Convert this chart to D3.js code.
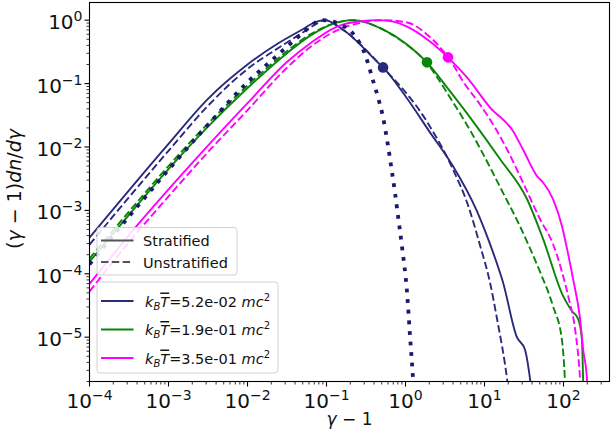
<!DOCTYPE html>
<html>
<head>
<meta charset="utf-8">
<script src="https://cdn.jsdelivr.net/npm/d3@7"></script>
<style>
  body { margin: 0; background: #fff; }
  text { font-family: "DejaVu Sans", sans-serif; fill: #111; }
</style>
</head>
<body>
<svg id="chart" width="611" height="437"></svg>
<script>
// Temperatures of the three runs (units of mc^2)
const temperatures = ["5.2e-02", "1.9e-01", "3.5e-01"];
const colors = ["#2a2a7c", "#0a850a", "#ff00ff"];

// Spectra (γ−1, (γ−1)dn/dγ), normalised to peak 1
const stratLowX = [1e-4, 1e-3, 3.16e-3, 0.01, 0.0251, 0.0501, 0.0708, 0.0955, 0.148, 0.475, 0.519, 1.0, 2.04, 3.98, 7.94, 11.1, 12.8, 17.1, 25.7, 32.4, 37.7, 39.8];
const stratLowY = [3.72e-4, 0.0112, 0.0575, 0.2, 0.44, 0.72, 0.92, 1.0, 0.767, 0.200, 0.180, 0.0631, 0.0170, 5.01e-3, 1.0e-3, 3.55e-4, 2.19e-4, 7.41e-5, 1.0e-5, 6.46e-6, 2.19e-6, 1.26e-6];
const unstratLowX = [1e-4, 1e-3, 3.16e-3, 0.01, 0.0251, 0.0501, 0.0708, 0.0955, 0.148, 0.475, 1.89, 3.98, 6.31, 8.77, 11.7, 14.4, 19.3, 20.4];
const unstratLowY = [2.88e-4, 8.71e-3, 0.0447, 0.17, 0.37, 0.64, 0.84, 1.0, 0.759, 0.200, 0.0245, 4.47e-3, 1.12e-3, 2.82e-4, 7.41e-5, 1.95e-5, 2.19e-6, 1.26e-6];

const stratMidX = [1e-4, 3.16e-4, 1e-3, 3.16e-3, 0.01, 0.0316, 0.0631, 0.126, 0.216, 0.519, 1.045, 1.87, 3.35, 7.14, 15.7, 34.5, 55.1, 98.6, 128, 153, 171, 177, 180];
const stratMidY = [1.55e-4, 8.51e-4, 4.47e-3, 0.0209, 0.0851, 0.302, 0.575, 0.891, 1.0, 0.715, 0.414, 0.216, 0.0871, 0.0254, 6.46e-3, 1.51e-3, 3.55e-4, 4.47e-5, 2.57e-5, 1.95e-5, 9.33e-6, 2.19e-6, 1.0e-6];
const unstratMidX = [1e-4, 3.16e-4, 1e-3, 3.16e-3, 0.01, 0.0316, 0.0631, 0.126, 0.216, 0.519, 1.045, 1.87, 2.51, 3.66, 5.35, 6.95, 8.77, 17.1, 28.1, 37.7, 50.5, 73.6, 95.7, 104, 107];
const unstratMidY = [1.74e-4, 9.55e-4, 5.01e-3, 0.0234, 0.0933, 0.324, 0.603, 0.891, 1.0, 0.708, 0.407, 0.209, 0.126, 0.0603, 0.0282, 0.0162, 9.55e-3, 1.91e-3, 5.62e-4, 2.51e-4, 1.07e-4, 3.09e-5, 8.91e-6, 2.19e-6, 1.0e-6];

const stratHighX = [1e-4, 3.16e-4, 1e-3, 3.16e-3, 0.01, 0.0316, 0.0631, 0.126, 0.251, 0.475, 1.045, 2.04, 3.45, 6.0, 11.7, 23.0, 30.7, 46.2, 55.1, 73.6, 95.7, 111, 132, 162, 177, 198, 204];
const stratHighY = [6.92e-5, 4.07e-4, 2.14e-3, 0.0105, 0.0490, 0.219, 0.437, 0.759, 0.955, 1.0, 0.794, 0.462, 0.259, 0.125, 0.0422, 0.0177, 9.12e-3, 3.47e-3, 2.75e-3, 1.51e-3, 5.62e-4, 2.45e-4, 8.32e-5, 1.95e-5, 6.46e-6, 2.19e-6, 1.0e-6];
const unstratHighX = [1e-4, 3.16e-4, 1e-3, 3.16e-3, 0.01, 0.0316, 0.0631, 0.126, 0.251, 0.519, 1.045, 1.87, 2.74, 3.99, 5.35, 8.77, 14.4, 19.3, 30.7, 50.5, 73.6, 95.7, 117, 140, 162, 168];
const unstratHighY = [5.25e-5, 3.16e-4, 1.66e-3, 8.32e-3, 0.0380, 0.178, 0.380, 0.661, 0.891, 1.0, 0.920, 0.596, 0.372, 0.200, 0.108, 0.0468, 0.0178, 9.12e-3, 2.75e-3, 7.24e-4, 2.95e-4, 1.07e-4, 3.98e-5, 1.35e-5, 2.19e-6, 1.0e-6];

// Reference thermal spectrum for the coolest run (dotted)
const thermalX = [1e-4, 1e-3, 3.16e-3, 0.01, 0.0251, 0.0501, 0.0708, 0.0891, 0.180, 0.229, 0.308, 0.389, 0.449, 0.519, 0.600, 0.675, 0.736, 0.804, 0.904, 1.045, 1.14, 1.245, 1.29];
const thermalY = [1.41e-4, 4.37e-3, 0.0224, 0.105, 0.295, 0.63, 0.9, 1.0, 0.759, 0.562, 0.288, 0.110, 0.0603, 0.0295, 0.0105, 3.98e-3, 1.91e-3, 8.13e-4, 2.63e-4, 5.13e-5, 1.05e-5, 2.19e-6, 1.0e-6];

// Circle markers on each stratified spectrum
const markerX = [0.52, 1.87, 3.45];
const markerY = [0.18, 0.216, 0.259];

const xTickExps = [-4, -3, -2, -1, 0, 1, 2];
const yTickExps = [-5, -4, -3, -2, -1, 0];

const svg = d3.select("#chart");
const L = 89.5, R = 609.5, T = 2.5, B = 381.5;

const x = d3.scaleLog().domain([1e-4, 382]).range([L, R]);
const y = d3.scaleLog().domain([2e-6, 1.9]).range([B, T]);

const zip = (xs, ys) => xs.map((v, i) => [v, ys[i]]);
const line = d3.line().x(d => x(d[0])).y(d => y(d[1])).curve(d3.curveMonotoneX);

svg.append("clipPath").attr("id", "plotArea")
  .append("rect").attr("x", L).attr("y", T).attr("width", R - L).attr("height", B - T);

const plot = svg.append("g").attr("clip-path", "url(#plotArea)");

const runs = [
  { s: zip(stratLowX, stratLowY), u: zip(unstratLowX, unstratLowY) },
  { s: zip(stratMidX, stratMidY), u: zip(unstratMidX, unstratMidY) },
  { s: zip(stratHighX, stratHighY), u: zip(unstratHighX, unstratHighY) }
];

runs.forEach((r, i) => {
  plot.append("path").attr("d", line(r.s)).attr("fill", "none")
    .attr("stroke", colors[i]).attr("stroke-width", 1.9);
  plot.append("path").attr("d", line(r.u)).attr("fill", "none")
    .attr("stroke", colors[i]).attr("stroke-width", 1.9)
    .attr("stroke-dasharray", "7.5,3.3");
});

plot.append("path").attr("d", line(zip(thermalX, thermalY))).attr("fill", "none")
  .attr("stroke", "#191970").attr("stroke-width", 3.8)
  .attr("stroke-dasharray", "3.8,6.8");

markerX.forEach((mx, i) => {
  plot.append("circle").attr("cx", x(mx)).attr("cy", y(markerY[i]))
    .attr("r", 5.3).attr("fill", colors[i]);
});

// Axes: decade labels plus minor ticks
const axes = svg.append("g");
const majorX = xTickExps.map(e => Math.pow(10, e));
const majorY = yTickExps.map(e => Math.pow(10, e));
const isMajor = v => Math.abs(Math.log10(v) - Math.round(Math.log10(v))) < 1e-6;

x.ticks().forEach(v => {
  const big = isMajor(v);
  axes.append("line").attr("x1", x(v)).attr("x2", x(v))
    .attr("y1", B).attr("y2", B + (big ? 5 : 3))
    .attr("stroke", "#000").attr("stroke-width", big ? 1.1 : 0.8);
});
y.ticks().forEach(v => {
  const big = isMajor(v);
  axes.append("line").attr("y1", y(v)).attr("y2", y(v))
    .attr("x1", L).attr("x2", L - (big ? 5 : 3))
    .attr("stroke", "#000").attr("stroke-width", big ? 1.1 : 0.8);
});

const exp = e => (e < 0 ? "\u2212" + (-e) : String(e));

majorX.forEach((v, i) => {
  const t = axes.append("text").attr("x", x(v)).attr("y", B + 26)
    .attr("text-anchor", "middle").attr("font-size", 20);
  t.append("tspan").text("10");
  t.append("tspan").attr("dy", -8).attr("font-size", 14).text(exp(xTickExps[i]));
});
majorY.forEach((v, i) => {
  const t = axes.append("text").attr("x", L - 7).attr("y", y(v) + 9)
    .attr("text-anchor", "end").attr("font-size", 20);
  t.append("tspan").text("10");
  t.append("tspan").attr("dy", -8).attr("font-size", 14).text(exp(yTickExps[i]));
});

axes.append("rect").attr("x", L).attr("y", T).attr("width", R - L).attr("height", B - T)
  .attr("fill", "none").attr("stroke", "#000").attr("stroke-width", 1.1);

// Axis titles
const xl = svg.append("text").attr("x", (L + R) / 2).attr("y", 425)
  .attr("text-anchor", "middle").attr("font-size", 17);
xl.append("tspan").attr("font-style", "italic").text("\u03b3");
xl.append("tspan").text(" \u2212 1");

const yl = svg.append("text").attr("transform", "translate(21,189) rotate(-90)")
  .attr("text-anchor", "middle").attr("font-size", 19);
yl.append("tspan").text("(");
yl.append("tspan").attr("font-style", "italic").text("\u03b3");
yl.append("tspan").text(" \u2212 1)");
yl.append("tspan").attr("font-style", "italic").text("dn");
yl.append("tspan").text("/");
yl.append("tspan").attr("font-style", "italic").text("d\u03b3");

// Legend: line styles
const leg1 = svg.append("g");
leg1.append("rect").attr("x", 97).attr("y", 227.5).attr("width", 140).attr("height", 47.5)
  .attr("rx", 3).attr("fill", "rgba(255,255,255,0.85)").attr("stroke", "#d0d0d0");
[["Stratified", null, 240.5], ["Unstratified", "7.5,3.3", 262]].forEach(([label, dash, cy]) => {
  leg1.append("line").attr("x1", 101).attr("x2", 133.5).attr("y1", cy).attr("y2", cy)
    .attr("stroke", "#555").attr("stroke-width", 1.9).attr("stroke-dasharray", dash);
  leg1.append("text").attr("x", 143).attr("y", cy + 5.5).attr("font-size", 14.5).text(label);
});

// Legend: temperatures
const leg2 = svg.append("g");
leg2.append("rect").attr("x", 97).attr("y", 282).attr("width", 181).attr("height", 91)
  .attr("rx", 3).attr("fill", "rgba(255,255,255,0.85)").attr("stroke", "#d0d0d0");
temperatures.forEach((tv, i) => {
  const cy = 301 + i * 28.5;
  leg2.append("line").attr("x1", 101).attr("x2", 133.5).attr("y1", cy).attr("y2", cy)
    .attr("stroke", colors[i]).attr("stroke-width", 1.9);
  const t = leg2.append("text").attr("x", 145).attr("y", cy + 5.5).attr("font-size", 14.5);
  t.append("tspan").attr("font-style", "italic").text("k");
  t.append("tspan").attr("font-style", "italic").attr("font-size", 10).attr("dy", 3).text("B");
  t.append("tspan").attr("font-style", "italic").attr("dy", -3)
    .style("text-decoration", "overline").text("T");
  t.append("tspan").text("=" + tv + " ");
  t.append("tspan").attr("font-style", "italic").text("mc");
  t.append("tspan").attr("font-size", 10).attr("dy", -6).text("2");
});
</script>
</body>
</html>
